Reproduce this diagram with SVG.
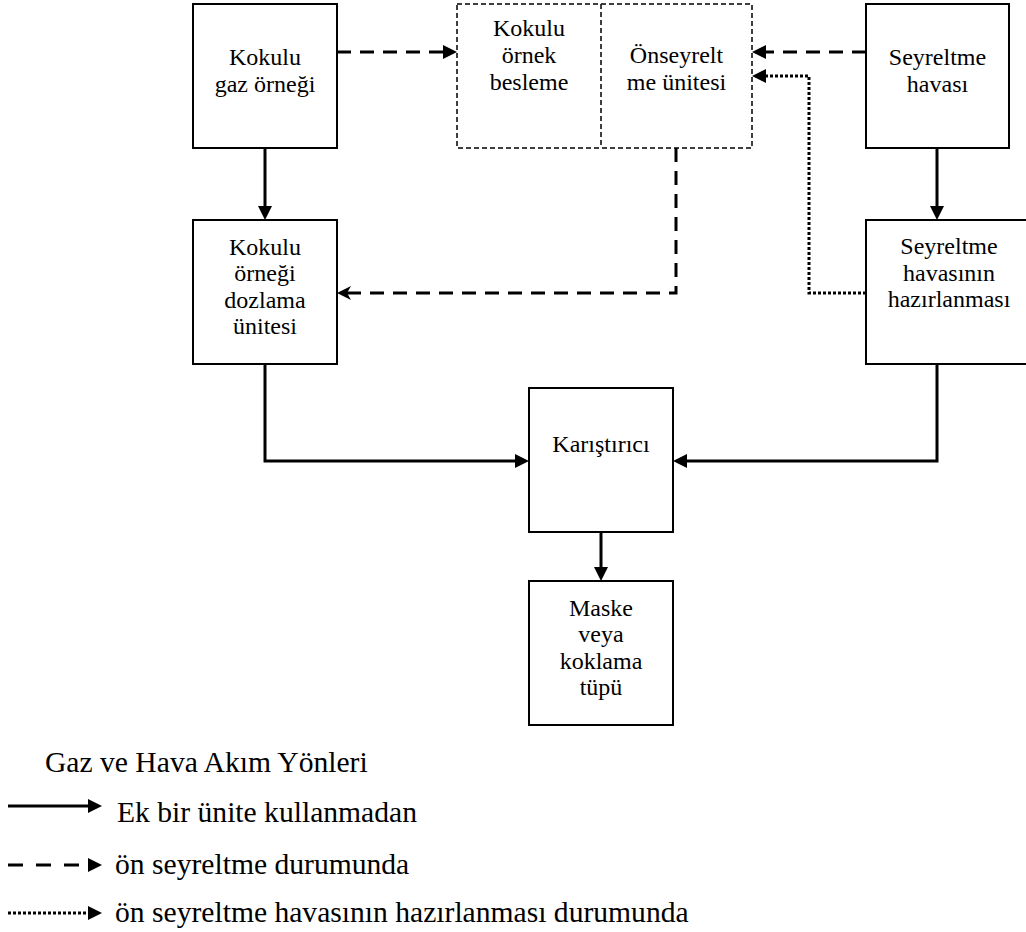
<svg xmlns="http://www.w3.org/2000/svg" width="1026" height="932" viewBox="0 0 1026 932">
<style>
.box{fill:#fff;stroke:#000;stroke-width:2}
.dbox{fill:none;stroke:#000;stroke-width:1.5;stroke-dasharray:5 3}
.t{font-family:"Liberation Serif","Times New Roman",serif;font-size:24px;fill:#000;text-anchor:middle}
.lg{font-family:"Liberation Serif","Times New Roman",serif;font-size:29.6px;fill:#000}
.solid{fill:none;stroke:#000;stroke-width:3}
.dash{fill:none;stroke:#000;stroke-width:3;stroke-dasharray:14 9}
.dot{fill:none;stroke:#000;stroke-width:3;stroke-dasharray:3 2}
</style>
<defs>
<marker id="tri" markerUnits="userSpaceOnUse" markerWidth="14" markerHeight="14" refX="0" refY="7" orient="auto" overflow="visible">
<path d="M0,0 L14,7 L0,14 z" fill="#000"/>
</marker>
<marker id="barb" markerUnits="userSpaceOnUse" markerWidth="14" markerHeight="14" refX="4" refY="7" orient="auto" overflow="visible">
<path d="M0,0 L14,7 L0,14 L4,7 z" fill="#000"/>
</marker>
</defs>

<g id="connectors">
<path class="dash" d="M337,52 H443" marker-end="url(#tri)"/>
<path class="dash" d="M866,52 H766" marker-end="url(#tri)"/>
<path class="dot" d="M866,293 H809 V76 H766" marker-end="url(#tri)"/>
<path class="dash" d="M676,148 V293 H347" marker-end="url(#barb)"/>
<path class="solid" d="M265,148 V206" marker-end="url(#tri)"/>
<path class="solid" d="M937,148 V206" marker-end="url(#tri)"/>
<path class="solid" d="M265,364 V461 H515" marker-end="url(#tri)"/>
<path class="solid" d="M937,364 V461 H687" marker-end="url(#tri)"/>
<path class="solid" d="M601,532 V567" marker-end="url(#tri)"/>
</g>

<g id="n-kokulu-gaz">
<rect class="box" x="193" y="4" width="144" height="144"/>
<text class="t" x="265" y="65">Kokulu</text>
<text class="t" x="265" y="92">gaz örneği</text>
</g>

<g id="n-dashed-group">
<rect class="dbox" x="457" y="4" width="295" height="144"/>
<line class="dbox" x1="601" y1="4" x2="601" y2="148"/>
</g>

<g id="n-ornek-besleme">
<text class="t" x="529" y="36">Kokulu</text>
<text class="t" x="529" y="63">örnek</text>
<text class="t" x="529" y="90">besleme</text>
</g>

<g id="n-onseyreltme">
<text class="t" x="676.5" y="63">Önseyrelt</text>
<text class="t" x="676.5" y="90">me ünitesi</text>
</g>

<g id="n-seyreltme-havasi">
<rect class="box" x="866" y="4" width="143" height="144"/>
<text class="t" x="937.5" y="65">Seyreltme</text>
<text class="t" x="937.5" y="92">havası</text>
</g>

<g id="n-dozlama">
<rect class="box" x="193" y="220" width="144" height="144"/>
<text class="t" x="265" y="254.5">Kokulu</text>
<text class="t" x="265" y="281">örneği</text>
<text class="t" x="265" y="307.5">dozlama</text>
<text class="t" x="265" y="334">ünitesi</text>
</g>

<g id="n-hazirlanmasi">
<rect class="box" x="866" y="220" width="167" height="144"/>
<text class="t" x="949" y="254">Seyreltme</text>
<text class="t" x="949" y="280.5">havasının</text>
<text class="t" x="949" y="307">hazırlanması</text>
</g>

<g id="n-karistirici">
<rect class="box" x="529" y="388" width="144" height="144"/>
<text class="t" x="601" y="452">Karıştırıcı</text>
</g>

<g id="n-maske">
<rect class="box" x="529" y="581" width="144" height="144"/>
<text class="t" x="601" y="615.5">Maske</text>
<text class="t" x="601" y="642">veya</text>
<text class="t" x="601" y="668.5">koklama</text>
<text class="t" x="601" y="695">tüpü</text>
</g>

<g id="legend">
<text class="lg" x="45" y="772">Gaz ve Hava Akım Yönleri</text>
<path class="solid" d="M8,806 H88" marker-end="url(#tri)"/>
<text class="lg" x="117" y="822">Ek bir ünite kullanmadan</text>
<path class="dash" d="M8,865 H88" style="stroke-dasharray:15 13" marker-end="url(#tri)"/>
<text class="lg" x="115" y="874">ön seyreltme durumunda</text>
<path class="dot" d="M8,913 H88" marker-end="url(#tri)"/>
<text class="lg" x="115" y="922">ön seyreltme havasının hazırlanması durumunda</text>
</g>
</svg>
